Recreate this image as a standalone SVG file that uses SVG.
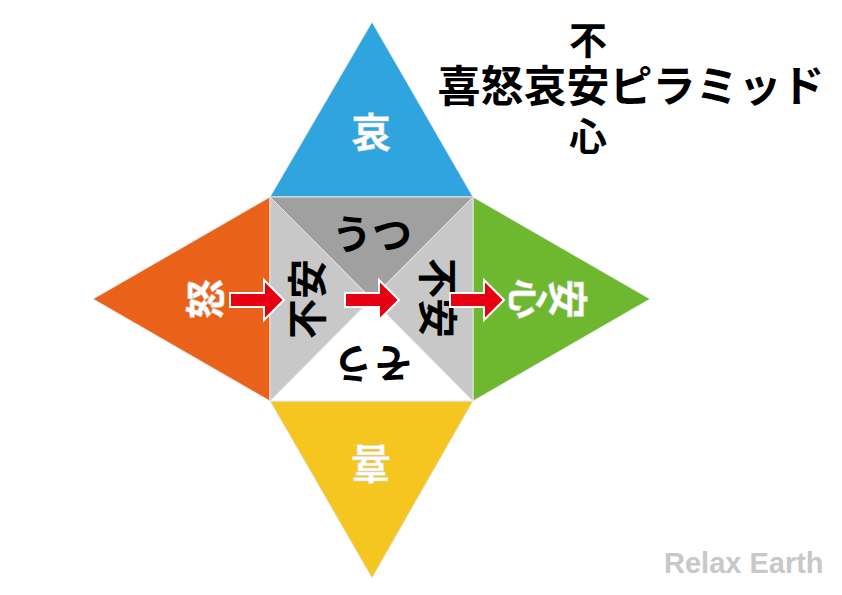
<svg xmlns="http://www.w3.org/2000/svg" width="842" height="595" viewBox="0 0 842 595">
<style>
.jp{font-family:"Noto Sans CJK JP","Noto Sans CJK SC",sans-serif;font-weight:700;text-anchor:middle;dominant-baseline:central}
.w{fill:#ffffff;stroke:#dddddd;stroke-width:0.6;font-size:40px}
.b{fill:#000000;font-size:40px}
.tri{stroke:#e6e6e6;stroke-width:1}
.arrow{fill:#e60012;stroke:#ffffff;stroke-width:2;stroke-linejoin:miter}
</style>
<defs>
<path id="arr" d="M0,-7 L34,-7 L34,-20 L54,0 L34,20 L34,7 L0,7 Z"/>
</defs>
<rect width="842" height="595" fill="#ffffff"/>
<g id="top-triangle">
<polygon class="tri" points="372,22 473,197 270,197" fill="#2fa4de"/>
<text class="jp w" x="371" y="130" font-size="38">哀</text>
</g>
<g id="left-triangle">
<polygon class="tri" points="93,299 270,197 270,401" fill="#ea6219"/>
<text class="jp w" x="203" y="299" transform="rotate(-90 203 299)">怒</text>
</g>
<g id="right-triangle">
<polygon class="tri" points="650,299 473,197 473,401" fill="#6db82f"/>
<text class="jp w" x="548" y="299" style="writing-mode:vertical-rl" transform="rotate(90 548 299)">安心</text>
</g>
<g id="bottom-triangle">
<polygon class="tri" points="372,578 473,401 270,401" fill="#f5c520"/>
<text class="jp w" x="371" y="466" transform="rotate(180 371 466)">喜</text>
</g>
<g id="center-top">
<polygon class="tri" points="270,197 473,197 371.5,299" fill="#a0a0a0"/>
<text class="jp b" x="372" y="232">うつ</text>
</g>
<g id="center-left">
<polygon class="tri" points="270,197 371.5,299 270,401" fill="#c8c8c8"/>
<text class="jp b" x="305" y="299" transform="rotate(-90 305 299)">不安</text>
</g>
<g id="center-right">
<polygon class="tri" points="473,197 371.5,299 473,401" fill="#c8c8c8"/>
<text class="jp b" x="440" y="298" transform="rotate(90 440 298)">不安</text>
</g>
<g id="center-bottom">
<polygon class="tri" points="270,401 371.5,299 473,401" fill="#ffffff"/>
<text class="jp b" x="373" y="366" font-size="38" transform="rotate(180 373 366)">そう</text>
</g>
<g id="connectors">
<use href="#arr" class="arrow" transform="translate(230,300)"/>
<use href="#arr" class="arrow" transform="translate(345,300)"/>
<use href="#arr" class="arrow" transform="translate(450,300)"/>
</g>
<g id="title">
<text class="jp" x="631" y="83" font-size="43" fill="#000000" font-weight="900">喜怒哀安ピラミッド</text>
<text class="jp" x="588" y="37" font-size="38" fill="#000000" font-weight="900">不</text>
<text class="jp" x="588" y="133" font-size="38" fill="#000000" font-weight="900">心</text>
</g>
<g id="watermark">
<text x="664" y="573" font-family="'Liberation Sans',Arial,sans-serif" font-weight="700" font-size="29" fill="#c8c8c8">Relax Earth</text>
</g>
</svg>
